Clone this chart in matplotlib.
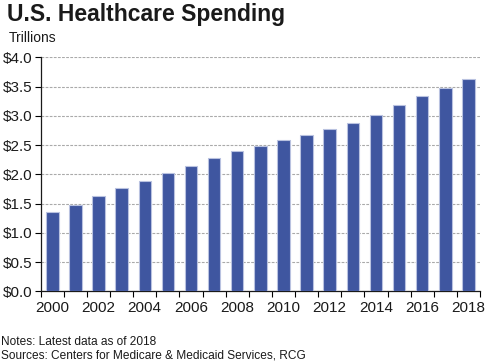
import matplotlib
matplotlib.use("Agg")
import matplotlib.pyplot as plt
import numpy as np

years = list(range(2000, 2019))
spending = [1.36, 1.48, 1.63, 1.76, 1.89, 2.02, 2.15, 2.28, 2.39, 2.49,
            2.59, 2.68, 2.78, 2.87, 3.01, 3.19, 3.34, 3.47, 3.63]
yticks = [0.0, 0.5, 1.0, 1.5, 2.0, 2.5, 3.0, 3.5, 4.0]
ytick_labels = ["$%.1f" % v for v in yticks]
title = "U.S. Healthcare Spending"
unit = "Trillions"
notes = "Notes: Latest data as of 2018"
sources = "Sources: Centers for Medicare & Medicaid Services, RCG"

plt.rcParams['font.family'] = ['Liberation Sans', 'DejaVu Sans']

W, H = 486, 363
fig = plt.figure(figsize=(W/100, H/100), dpi=100)
ax = fig.add_axes([40.7/W, 1-291.3/H, (480-40.7)/W, (291.3-57.3)/H])

x = np.arange(len(years))
ax.bar(x, spending, width=0.54, color='#3F56A0', edgecolor='#B9C2E0', linewidth=0.8, zorder=3)

ax.set_xlim(-0.5, len(years)-0.5)
ax.set_ylim(0, 4.0)
ax.set_yticks(yticks)
ax.set_yticklabels(ytick_labels, fontsize=11, color='#1a1a1a')
ax.yaxis.grid(True, linestyle=(0, (2.5, 1.2)), color='#aaaaaa', linewidth=0.8, zorder=0)

ax.set_xticks(np.arange(-0.5, len(years), 1))
ax.set_xticklabels([])
ax.set_xticks(x[::2], minor=True)
ax.set_xticklabels([str(y) for y in years[::2]], minor=True, fontsize=11, color='#1a1a1a')
ax.tick_params(axis='x', which='minor', length=0, pad=7)
ax.tick_params(axis='x', which='major', length=4, width=0.8, direction='out')
ax.tick_params(axis='y', length=4, width=0.8, direction='out', pad=2)

for s in ['top', 'right']:
    ax.spines[s].set_visible(False)
for s in ['left', 'bottom']:
    ax.spines[s].set_linewidth(0.9)
    ax.spines[s].set_color('#1a1a1a')

fig.text(7/W, 1-14/H, title, fontsize=16.5, fontweight='bold', va='center', ha='left', color='#1a1a1a')
fig.text(9/W, 1-38/H, unit, fontsize=10, va='center', ha='left', color='#1a1a1a')
fig.text(1/W, 1-342/H, notes, fontsize=8.6, va='center', ha='left', color='#1a1a1a')
fig.text(1/W, 1-356/H, sources, fontsize=8.6, va='center', ha='left', color='#1a1a1a')

fig.savefig("out.png", dpi=100)
